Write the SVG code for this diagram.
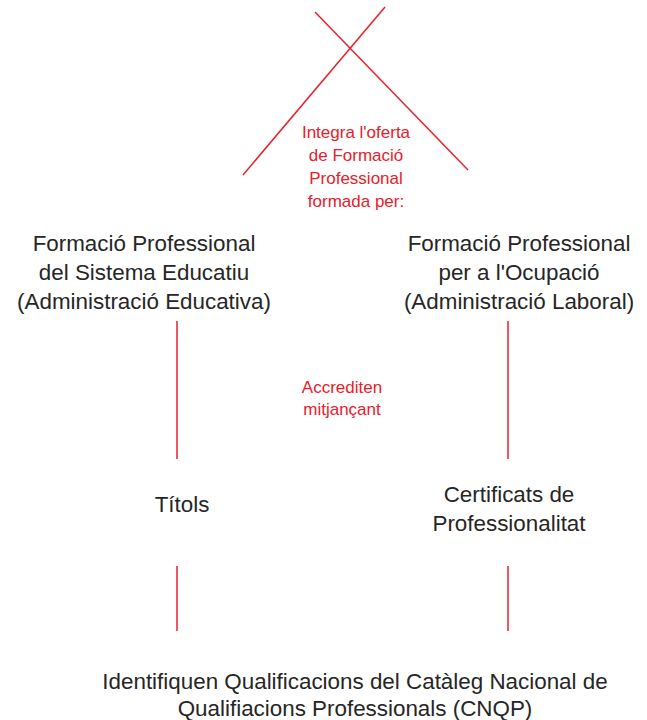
<svg xmlns="http://www.w3.org/2000/svg" width="647" height="720" viewBox="0 0 647 720">
<style>
.n{font-family:"Liberation Sans",Arial,sans-serif;font-size:22.4px;fill:#262626;text-anchor:middle}
.r{font-family:"Liberation Sans",Arial,sans-serif;font-size:17px;fill:#e8202a;text-anchor:middle}
.c{stroke:#e8202a;stroke-width:1.5;fill:none}
</style>
<rect width="647" height="720" fill="#fff"/>
<g id="connectors">
<line class="c" x1="315" y1="12" x2="468" y2="170"/>
<line class="c" x1="385" y1="7" x2="243" y2="175"/>
<line class="c" x1="177" y1="321" x2="177" y2="459"/>
<line class="c" x1="508" y1="321" x2="508" y2="459"/>
<line class="c" x1="177" y1="566" x2="177" y2="631"/>
<line class="c" x1="508" y1="566" x2="508" y2="631"/>
</g>
<g id="label-integra">
<text class="r" x="356" y="138">Integra l'oferta</text>
<text class="r" x="356" y="161">de Formació</text>
<text class="r" x="356" y="184">Professional</text>
<text class="r" x="356" y="207">formada per:</text>
</g>
<g id="label-accrediten">
<text class="r" x="342" y="393">Accrediten</text>
<text class="r" x="342" y="415">mitjançant</text>
</g>
<g id="node-fp-educatiu">
<text class="n" x="144" y="251">Formació Professional</text>
<text class="n" x="144" y="280">del Sistema Educatiu</text>
<text class="n" x="144" y="308.5">(Administració Educativa)</text>
</g>
<g id="node-fp-ocupacio">
<text class="n" x="519" y="251">Formació Professional</text>
<text class="n" x="519" y="280">per a l'Ocupació</text>
<text class="n" x="519" y="308.5">(Administració Laboral)</text>
</g>
<g id="node-titols">
<text class="n" x="182" y="512">Títols</text>
</g>
<g id="node-certificats">
<text class="n" x="509" y="502">Certificats de</text>
<text class="n" x="509" y="531">Professionalitat</text>
</g>
<g id="node-cnqp">
<text class="n" x="355" y="689">Identifiquen Qualificacions del Catàleg Nacional de</text>
<text class="n" x="355" y="716">Qualifiacions Professionals (CNQP)</text>
</g>
</svg>
